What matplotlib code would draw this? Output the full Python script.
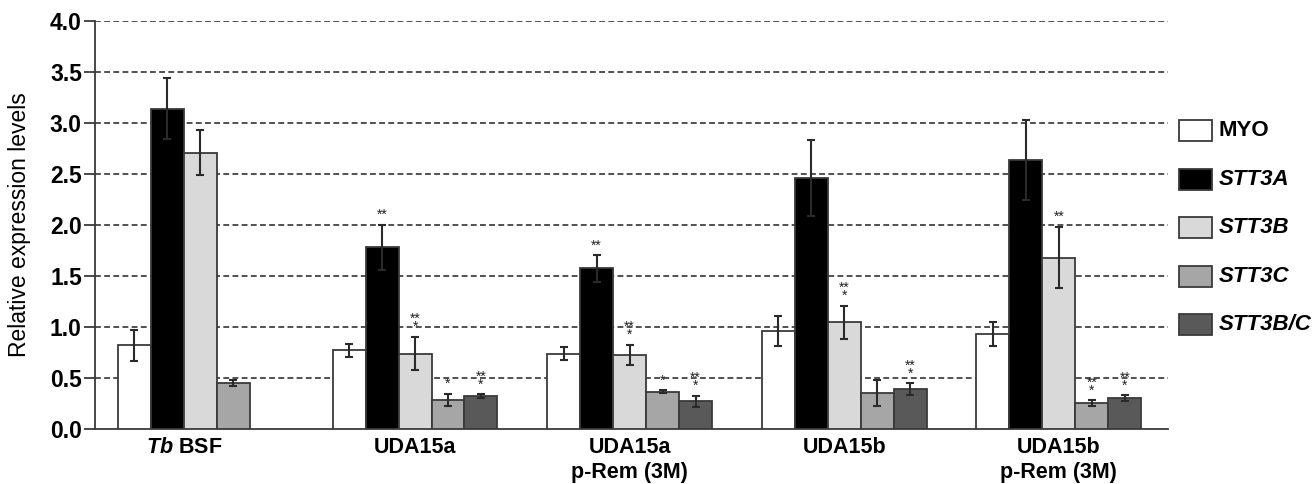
import numpy as np
import matplotlib
matplotlib.use("Agg")
import matplotlib.pyplot as plt
from matplotlib.patches import Rectangle

plt.rcParams['font.family'] = ['Liberation Sans', 'DejaVu Sans']
plt.rcParams['mathtext.fontset'] = 'custom'
plt.rcParams['mathtext.it'] = 'Liberation Sans:italic:bold'
plt.rcParams['mathtext.rm'] = 'Liberation Sans:bold'
plt.rcParams['mathtext.bf'] = 'Liberation Sans:bold'

# ---------------- data ----------------
groups = [r"$\mathit{Tb}$ BSF", "UDA15a", "UDA15a\np-Rem (3M)", "UDA15b", "UDA15b\np-Rem (3M)"]
series = ["MYO", "STT3A", "STT3B", "STT3C", "STT3B/C"]
italic_series = [False, True, True, True, True]
colors = ["#ffffff", "#000000", "#d9d9d9", "#a6a6a6", "#595959"]

myo = [0.82, 0.77, 0.74, 0.96, 0.93]
myo_err = [0.155, 0.065, 0.065, 0.145, 0.12]
stt3a = [3.14, 1.78, 1.575, 2.46, 2.64]
stt3a_err = [0.30, 0.22, 0.13, 0.37, 0.39]
stt3b = [2.71, 0.74, 0.725, 1.046, 1.68]
stt3b_err = [0.22, 0.165, 0.10, 0.16, 0.30]
stt3c = [0.45, 0.284, 0.366, 0.35, 0.255]
stt3c_err = [0.03, 0.06, 0.012, 0.127, 0.025]
stt3bc = [np.nan, 0.32, 0.27, 0.39, 0.30]
stt3bc_err = [np.nan, 0.02, 0.055, 0.06, 0.03]

# significance marks (multi-line where stacked)
sig_myo = ["", "", "", "", ""]
sig_stt3a = ["", "**", "**", "", ""]
sig_stt3b = ["", "**\n*", "**\n*", "**\n*", "**"]
sig_stt3c = ["", "*", "*", "", "**\n*"]
sig_stt3bc = ["", "**\n*", "**\n*", "**\n*", "**\n*"]

values = [myo, stt3a, stt3b, stt3c, stt3bc]
errors = [myo_err, stt3a_err, stt3b_err, stt3c_err, stt3bc_err]
sigs = [sig_myo, sig_stt3a, sig_stt3b, sig_stt3c, sig_stt3bc]

yticks = [0.0, 0.5, 1.0, 1.5, 2.0, 2.5, 3.0, 3.5, 4.0]

# ---------------- figure ----------------
W, H = 1314, 484
fig = plt.figure(figsize=(W / 100, H / 100), dpi=100)
ax = fig.add_axes([95 / W, 1 - 429 / H, (1168 - 95) / W, (429 - 21) / H])

bw = 0.1537
start = 0.107
edge = "#3a3a3a"
n_groups = len(groups)

for k, (vals, errs, sg) in enumerate(zip(values, errors, sigs)):
    xs = np.arange(n_groups) + start + (k + 0.5) * bw
    v = np.array(vals, dtype=float)
    e = np.array(errs, dtype=float)
    ax.bar(xs, v, width=bw, color=colors[k], edgecolor=edge, linewidth=1.3, zorder=3)
    ax.errorbar(xs, v, yerr=e, fmt='none', ecolor="#2a2a2a", elinewidth=1.5,
                capsize=3, capthick=1.5, zorder=4)
    for i in range(n_groups):
        if not sg[i]:
            continue
        ax.annotate(sg[i], xy=(xs[i], v[i] + e[i]), xytext=(0, 2),
                    textcoords='offset points', ha='center', va='bottom',
                    multialignment='center', linespacing=0.45,
                    fontsize=10, color="#222222", zorder=5)

# tick positions: center of drawn bars in each group
nbars = [sum(0 if np.isnan(values[k][i]) else 1 for k in range(len(series))) for i in range(n_groups)]
tick_x = [i + start + nbars[i] * bw / 2 for i in range(n_groups)]
ax.set_xticks(tick_x)
ax.set_xticklabels(groups, fontsize=15.5, fontweight='bold')
ax.tick_params(axis='x', length=0, pad=6)

ax.set_xlim(0, 5)
ax.set_ylim(0, 4.0)
ax.set_yticks(yticks)
ax.set_yticklabels([f"{t:.1f}" for t in yticks], fontsize=16.5, fontweight='bold')
ax.tick_params(axis='y', length=8, width=1.3, color=edge, direction='out', pad=1.5)

for yv in yticks[1:]:
    ax.axhline(yv, color="#333333", lw=1.2, ls=(0, (3.5, 2)), zorder=1)

for s in ['top', 'right']:
    ax.spines[s].set_visible(False)
for s in ['left', 'bottom']:
    ax.spines[s].set_color(edge)
    ax.spines[s].set_linewidth(1.3)

ax.set_ylabel("Relative expression levels", fontsize=16.5)
ax.yaxis.set_label_coords(-64 / (1168 - 95), 0.5)

# ---------------- legend ----------------
for k, name in enumerate(series):
    cy = 130.5 + k * 48.6
    fig.add_artist(Rectangle((1179 / W, 1 - (cy + 10.5) / H), 33 / W, 21 / H,
                             transform=fig.transFigure, facecolor=colors[k],
                             edgecolor=edge, linewidth=1.3))
    fig.text(1219 / W, 1 - cy / H, name, fontsize=16, fontweight='bold',
             fontstyle='italic' if italic_series[k] else 'normal',
             ha='left', va='center')

fig.savefig("out.png", dpi=100)
